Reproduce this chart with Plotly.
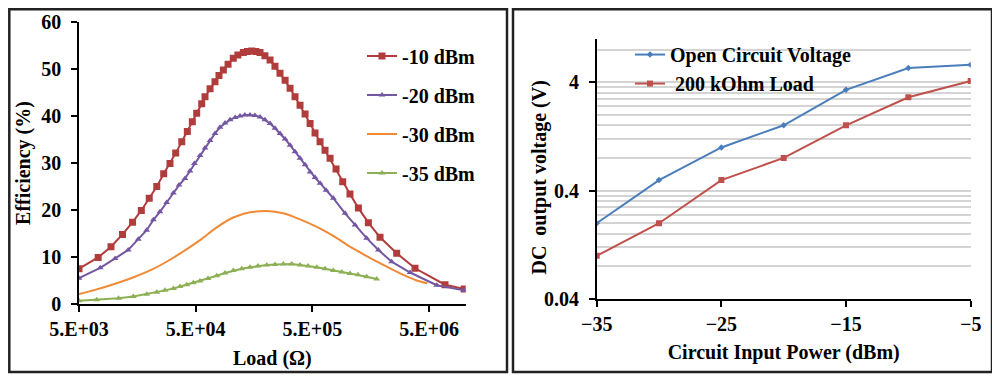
import plotly.graph_objects as go

# ---------------- Left panel data: Efficiency vs Load ----------------
load_m10 = [5000, 7300, 9400, 11800, 14400, 17100, 20000, 23200, 26600, 30100,
            33700, 38000, 42400, 46800, 51000, 56300, 60100, 66400, 73200, 79200,
            86300, 94700, 105000, 115000, 128000, 139000, 151000, 164000, 178000, 196000,
            217000, 239000, 264000, 292000, 322000, 355000, 392000, 433000, 478000, 527000,
            582000, 642000, 709000, 798000, 910000, 1050000, 1240000, 1510000, 1900000, 2640000,
            3790000, 6850000, 10000000]
eff_m10 = [7.5, 9.9, 12.2, 14.8, 17.4, 19.9, 22.5, 25.0, 27.7, 29.9,
           32.1, 34.5, 36.7, 38.8, 40.6, 42.6, 44.1, 45.8, 47.3, 48.6,
           49.8, 51.0, 52.3, 53.0, 53.5, 53.7, 53.8, 53.7, 53.5, 52.8,
           51.9, 50.6, 49.1, 47.6, 45.9, 44.1, 42.3, 40.4, 38.4, 36.4,
           34.5, 32.7, 31.0, 28.7, 26.0, 23.4, 20.4, 17.3, 14.2, 10.8,
           7.6, 4.1, 3.2]

load_m20 = [5000, 7600, 10200, 13200, 16100, 19000, 21700, 24700, 28200, 32200,
            36000, 40500, 44700, 48700, 54500, 60100, 66400, 73200, 80800, 89200,
            98500, 109000, 120000, 132000, 146000, 161000, 178000, 196000, 217000, 239000,
            264000, 292000, 322000, 355000, 392000, 433000, 478000, 527000, 582000, 655000,
            756000, 953000, 1160000, 1460000, 1840000, 2390000, 3440000, 5820000, 10000000]
eff_m20 = [5.5, 7.7, 9.7, 11.5, 13.8, 15.7, 17.9, 19.6, 21.6, 23.6,
           25.3, 26.7, 28.3, 29.9, 31.6, 33.2, 34.8, 36.3, 37.6, 38.5,
           39.2, 39.7, 40.0, 40.2, 40.2, 40.1, 39.8, 39.2, 38.4, 37.4,
           36.3, 35.1, 33.8, 32.4, 31.0, 29.6, 28.1, 26.9, 25.7, 24.2,
           22.5, 19.3, 16.8, 14.0, 11.5, 9.0, 6.7, 4.0, 2.9]

load_m30 = [5000, 6860, 10200, 15100, 21000, 29100, 39200, 54500, 75700, 105000,
            146000, 203000, 282000, 392000, 545000, 756000, 1050000, 1460000, 2030000, 2820000,
            3920000, 4830000]
eff_m30 = [2.1, 3.0, 4.3, 5.8, 7.3, 9.2, 11.2, 13.6, 16.3, 18.4,
           19.5, 19.8, 19.3, 18.0, 16.4, 14.5, 12.2, 10.2, 8.3, 6.5,
           5.0, 4.4]

load_m35 = [5000, 7090, 10900, 14600, 19000, 23200, 27300, 32200, 36700, 41900,
            47700, 54500, 63800, 75700, 89200, 105000, 124000, 146000, 171000, 203000,
            239000, 282000, 333000, 392000, 459000, 545000, 642000, 756000, 893000, 1050000,
            1230000, 1460000, 1780000]
eff_m35 = [0.7, 0.9, 1.2, 1.6, 2.1, 2.5, 2.9, 3.3, 3.7, 4.1,
           4.5, 4.9, 5.4, 6.0, 6.6, 7.1, 7.5, 7.8, 8.1, 8.3,
           8.4, 8.5, 8.5, 8.3, 8.1, 7.8, 7.5, 7.1, 6.8, 6.5,
           6.2, 5.8, 5.3]

load_ticks = [5e3, 5e4, 5e5, 5e6]
load_ticktext = ["5.E+03", "5.E+04", "5.E+05", "5.E+06"]
eff_ticks = [0, 10, 20, 30, 40, 50, 60]

# ---------------- Right panel data: DC output voltage ----------------
pin_dbm = [-35, -30, -25, -20, -15, -10, -5]
v_open = [0.20, 0.50, 1.0, 1.6, 3.4, 5.4, 5.8]
v_200k = [0.10, 0.20, 0.50, 0.80, 1.6, 2.9, 4.1]
pin_ticks = [-35, -25, -15, -5]
v_ticks = [0.04, 0.4, 4]
v_ticktext = ["0.04", "0.4", "4"]
v_minor = [0.08, 0.12, 0.16, 0.2, 0.24, 0.28, 0.32, 0.36,
           0.8, 1.2, 1.6, 2.0, 2.4, 2.8, 3.2, 3.6, 8, 10]

FONT = "Liberation Serif"
FS = 20

fig = go.Figure()

fig.add_trace(go.Scatter(x=load_m10, y=eff_m10, name="-10 dBm", mode="lines+markers",
                         line=dict(color="#B03C3C", width=2),
                         marker=dict(symbol="square", size=7, color="#B03C3C"),
                         xaxis="x", yaxis="y", legend="legend", legendgroup="a"))
fig.add_trace(go.Scatter(x=load_m20, y=eff_m20, name="-20 dBm", mode="lines+markers",
                         line=dict(color="#7457A2", width=2),
                         marker=dict(symbol="triangle-up", size=6, color="#7457A2"),
                         xaxis="x", yaxis="y", legend="legend", legendgroup="b"))
fig.add_trace(go.Scatter(x=load_m30, y=eff_m30, name="-30 dBm", mode="lines",
                         line=dict(color="#F08A36", width=2, shape="spline", smoothing=0.6),
                         xaxis="x", yaxis="y", legend="legend", legendgroup="c"))
fig.add_trace(go.Scatter(x=load_m35, y=eff_m35, name="-35 dBm", mode="lines+markers",
                         line=dict(color="#8DB055", width=2),
                         marker=dict(symbol="triangle-up", size=6, color="#8DB055"),
                         xaxis="x", yaxis="y", legend="legend", legendgroup="d"))

fig.add_trace(go.Scatter(x=pin_dbm, y=v_open, name="Open Circuit Voltage", mode="lines+markers",
                         line=dict(color="#4A7EBB", width=2),
                         marker=dict(symbol="diamond", size=5, color="#4A7EBB"),
                         xaxis="x2", yaxis="y2", legend="legend2"))
fig.add_trace(go.Scatter(x=pin_dbm, y=v_200k, name=" 200 kOhm Load", mode="lines+markers",
                         line=dict(color="#C0504D", width=2),
                         marker=dict(symbol="square", size=6, color="#C0504D"),
                         xaxis="x2", yaxis="y2", legend="legend2"))

axis_font = dict(family=FONT, size=FS, color="black", weight="bold")

fig.update_layout(
    width=1000, height=381,
    margin=dict(l=0, r=0, t=0, b=0, autoexpand=False),
    paper_bgcolor="white", plot_bgcolor="rgba(0,0,0,0)",
    font=dict(family=FONT, size=FS, color="black", weight="bold"),
    xaxis=dict(type="log", domain=[0.071, 0.4577], range=[3.69897, 7.013], automargin=False,
               tickvals=load_ticks, ticktext=load_ticktext, ticks="outside", ticklen=6,
               tickwidth=1.5, tickcolor="black", showline=True, linecolor="black", linewidth=1.5,
               showgrid=False, zeroline=False, tickfont=axis_font,
               title=dict(text="Load (Ω)", font=axis_font, standoff=12), anchor="y"),
    yaxis=dict(domain=[0.2231, 0.9633], range=[0, 60], tickvals=eff_ticks, automargin=False,
               ticks="outside", ticklen=6, tickwidth=1.5, tickcolor="black", ticklabelstandoff=6,
               showline=True, linecolor="black", linewidth=1.5, showgrid=False, zeroline=False,
               tickfont=axis_font, title=dict(text="Efficiency (%)", font=axis_font, standoff=5),
               anchor="x"),
    xaxis2=dict(domain=[0.5887, 0.9627], range=[-35, -5], tickvals=pin_ticks, automargin=False,
                ticks="outside", ticklen=6, tickwidth=1.5, tickcolor="black",
                showline=True, linecolor="black", linewidth=1.5, showgrid=False, zeroline=False,
                tickfont=axis_font, title=dict(text="Circuit Input Power (dBm)", font=axis_font, standoff=11),
                anchor="y2"),
    yaxis2=dict(type="log", domain=[0.2362, 0.9186], range=[-1.39794, 1.0], automargin=False,
                tickvals=v_ticks, ticktext=v_ticktext, ticks="outside", ticklen=6, ticklabelstandoff=6,
                tickwidth=1.5, tickcolor="black", showline=True, linecolor="black", linewidth=1.5,
                showgrid=True, gridcolor="#D4D4D4", gridwidth=1.5, zeroline=False,
                minor=dict(tickvals=v_minor, showgrid=True, gridcolor="#D4D4D4", gridwidth=1.5, ticks=""),
                tickfont=axis_font, anchor="x2"),
    legend=dict(x=0.354, y=0.925, xanchor="left", yanchor="top", bgcolor="rgba(0,0,0,0)",
                font=dict(family=FONT, size=FS, color="black", weight="bold"),
                traceorder="grouped", tracegroupgap=10),
    legend2=dict(x=0.622, y=0.929, xanchor="left", yanchor="top", bgcolor="rgba(0,0,0,0)",
                 font=dict(family=FONT, size=FS, color="black", weight="bold"),
                 tracegroupgap=5),
    showlegend=True,
)

# right panel y-axis title (placed as text annotation for exact position)
fig.add_annotation(text="DC\u00a0 output voltage (V)", xref="paper", yref="paper",
                   x=0.532, y=0.555, textangle=-90, showarrow=False,
                   font=axis_font, xanchor="center", yanchor="middle")

# panel frames
fig.add_shape(type="rect", xref="paper", yref="paper", x0=0.0013, x1=0.499,
              y0=17 / 381, y1=379.7 / 381, line=dict(color="#222222", width=2.5))
fig.add_shape(type="rect", xref="paper", yref="paper", x0=0.505, x1=0.984,
              y0=17 / 381, y1=379.7 / 381, line=dict(color="#222222", width=2.5))

fig.write_html("out.html")
